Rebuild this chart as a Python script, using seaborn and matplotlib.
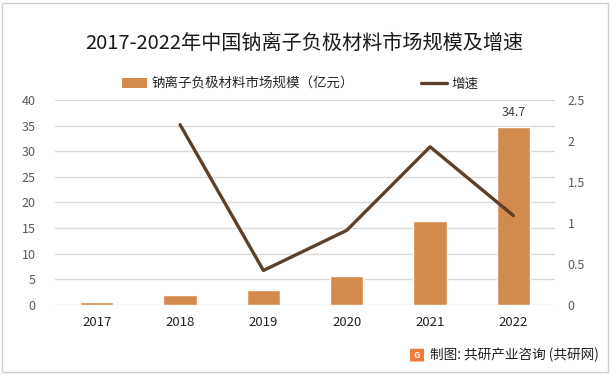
import matplotlib
matplotlib.use("Agg")
import matplotlib.pyplot as plt
import seaborn as sns
import numpy as np
import pandas as pd
from matplotlib.patches import Patch, FancyBboxPatch, Rectangle
from matplotlib.lines import Line2D

years = ["2017", "2018", "2019", "2020", "2021", "2022"]
market_size = [0.6, 1.95, 2.93, 5.66, 16.4, 34.7]
growth = [np.nan, 2.2, 0.42, 0.91, 1.93, 1.09]
left_ticks = [0, 5, 10, 15, 20, 25, 30, 35, 40]
right_ticks = [0, 0.5, 1, 1.5, 2, 2.5]
right_tick_labels = ["0", "0.5", "1", "1.5", "2", "2.5"]
title = "2017-2022年中国钠离子负极材料市场规模及增速"
bar_label = "钠离子负极材料市场规模（亿元）"
line_label = "增速"
source = "制图: 共研产业咨询 (共研网)"

sns.set_theme(style="white")
plt.rcParams["font.family"] = ["Noto Sans CJK SC", "DejaVu Sans"]

bar_color = "#D38B4D"
line_color = "#5E4028"
grid_color = "#D9D9D9"
tick_color = "#595959"

df = pd.DataFrame({"year": years, "size": market_size, "growth": growth})
df["pos"] = np.arange(len(years))

fig = plt.figure(figsize=(6.12, 3.75), dpi=100)
ax = fig.add_axes([0.09, 0.187, 0.817, 0.546])

sns.barplot(data=df, x="year", y="size", color=bar_color, width=0.4,
            saturation=1, ax=ax, zorder=2)
ax.set_ylim(0, 40)
ax.set_yticks(left_ticks)
ax.set_yticklabels([str(t) for t in left_ticks])
ax.set_xlim(-0.5, len(years) - 0.5)
ax.yaxis.grid(True, color=grid_color, linewidth=1.0, zorder=0)
ax.set_axisbelow(True)
for s in ax.spines.values():
    s.set_visible(False)
ax.set_xlabel("")
ax.set_ylabel("")
ax.tick_params(axis="y", colors=tick_color, labelsize=9, length=0, pad=14)
ax.tick_params(axis="x", colors="#222222", labelsize=9.5, length=0, pad=8)

# data label on last bar
cont = ax.containers[0]
labels = ["" for _ in market_size]
labels[-1] = f"{market_size[-1]}"
ax.bar_label(cont, labels=labels, padding=6, fontsize=9, color="#404040")

ax2 = ax.twinx()
sns.lineplot(data=df, x="pos", y="growth", color=line_color, linewidth=2.4,
             ax=ax2, zorder=3)
ax2.set_ylim(0, 2.5)
ax2.set_yticks(right_ticks)
ax2.set_yticklabels(right_tick_labels)
ax2.set_xlim(-0.5, len(years) - 0.5)
for s in ax2.spines.values():
    s.set_visible(False)
ax2.set_ylabel("")
ax2.set_xlabel("")
ax2.tick_params(axis="y", colors=tick_color, labelsize=9, length=0, pad=9)
ax2.grid(False)

fig.text(0.497, 0.885, title, ha="center", va="center", fontsize=14.5,
         color="#1a1a1a")

handles = [Patch(facecolor=bar_color, edgecolor="none"),
           Line2D([0], [0], color=line_color, linewidth=2.4)]
fig.legend(handles, [bar_label, line_label], loc="center",
           bbox_to_anchor=(0.49, 0.777), ncol=2, frameon=False,
           fontsize=9.7, handlelength=1.9, handleheight=0.7,
           handletextpad=0.3, columnspacing=5.0)

# footer
fig.text(0.702, 0.053, source, ha="left", va="center", fontsize=9.8,
         color="#222222")
logo = FancyBboxPatch((0.672, 0.038), 0.019, 0.03,
                      boxstyle="round,pad=0.002", transform=fig.transFigure,
                      facecolor="#EF7A3C", edgecolor="none")
fig.patches.append(logo)
fig.text(0.6815, 0.053, "G", ha="center", va="center", fontsize=6.5,
         color="white", fontweight="bold")

# border
fig.patches.append(Rectangle((0.004, 0.008), 0.99, 0.984,
                             transform=fig.transFigure, fill=False,
                             edgecolor="#D0D0D0", linewidth=1.0))

fig.savefig("out.png", dpi=100)
